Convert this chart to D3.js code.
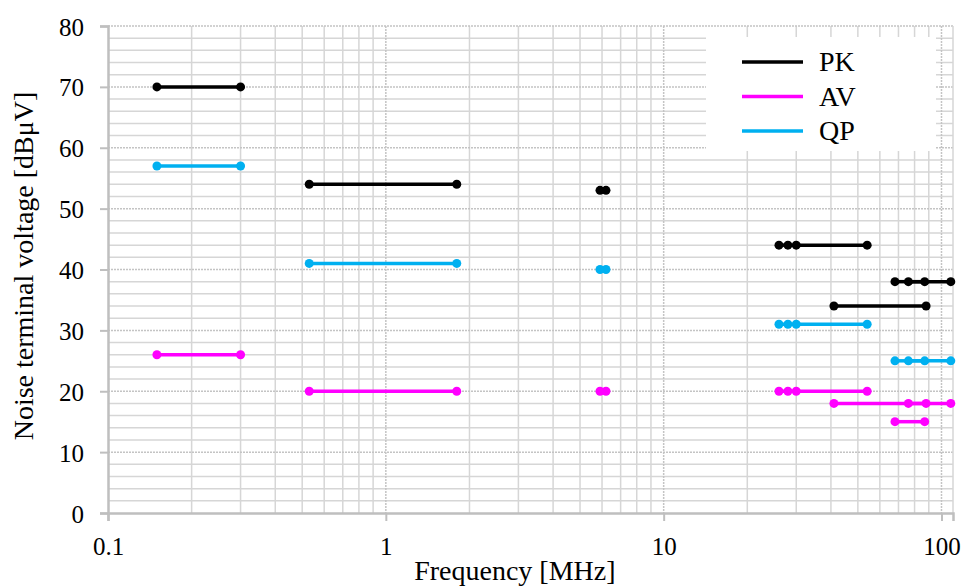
<!DOCTYPE html>
<html>
<head>
<meta charset="utf-8">
<script src="https://cdn.jsdelivr.net/npm/d3@7"></script>
<style>
  body { margin: 0; background: #fff; }
</style>
</head>
<body>
<svg width="964" height="586"></svg>
<script>
// limit segments: [start MHz, end MHz, level dBuV]
var pkSegments = [[0.15, 0.3, 70], [0.53, 1.8, 54], [5.9, 6.2, 53], [26, 28, 44], [30, 54, 44], [41, 88, 34], [68, 87, 38], [76, 108, 38]];
var avSegments = [[0.15, 0.3, 26], [0.53, 1.8, 20], [5.9, 6.2, 20], [26, 28, 20], [30, 54, 20], [41, 88, 18], [68, 87, 15], [76, 108, 18]];
var qpSegments = [[0.15, 0.3, 57], [0.53, 1.8, 41], [5.9, 6.2, 40], [26, 28, 31], [30, 54, 31], [68, 87, 25], [76, 108, 25]];
var seriesNames = ["PK", "AV", "QP"];
var seriesColors = ["#000000", "#ff00ff", "#00b0f0"];
var xTicks = [0.1, 1, 10, 100];
var yTicks = [0, 10, 20, 30, 40, 50, 60, 70, 80];

var FONT = "'Liberation Serif'";

var margin = { top: 26, right: 11, bottom: 73, left: 108 },
  width = 964 - margin.left - margin.right,
  height = 586 - margin.top - margin.bottom;

var svg = d3.select("svg")
  .append("g")
  .attr("transform", "translate(" + margin.left + "," + margin.top + ")");

var x = d3.scaleLog().domain([0.1, 110]).range([0, width]);
var y = d3.scaleLinear().domain([0, 80]).range([height, 0]);

// grid lines
var minorX = [];
[0.1, 1, 10].forEach(function (d) {
  for (var k = 2; k <= 9; k++) minorX.push(d * k);
});
var minorY = d3.range(2, 82, 2).filter(function (d) { return d % 10 != 0; });

svg.append("g").selectAll("line")
  .data(minorY)
  .enter().append("line")
  .attr("x1", 0).attr("x2", width)
  .attr("y1", function (d) { return y(d); })
  .attr("y2", function (d) { return y(d); })
  .attr("stroke", "#d6d6d6").attr("stroke-width", 1.5);

svg.append("g").selectAll("line")
  .data(minorX)
  .enter().append("line")
  .attr("x1", function (d) { return x(d); })
  .attr("x2", function (d) { return x(d); })
  .attr("y1", 0).attr("y2", height)
  .attr("stroke", "#d6d6d6").attr("stroke-width", 1.5);

// major grid (dotted)
svg.append("g").selectAll("line")
  .data(yTicks.slice(1))
  .enter().append("line")
  .attr("x1", 0).attr("x2", width)
  .attr("y1", function (d) { return y(d); })
  .attr("y2", function (d) { return y(d); })
  .attr("stroke", "#c4c4c4").attr("stroke-width", 1.5)
  .attr("stroke-dasharray", "2,1");

svg.append("g").selectAll("line")
  .data(xTicks.slice(1))
  .enter().append("line")
  .attr("x1", function (d) { return x(d); })
  .attr("x2", function (d) { return x(d); })
  .attr("y1", 0).attr("y2", height)
  .attr("stroke", "#c4c4c4").attr("stroke-width", 1.5)
  .attr("stroke-dasharray", "2,1");

// right border
svg.append("line")
  .attr("x1", width).attr("x2", width)
  .attr("y1", 0).attr("y2", height)
  .attr("stroke", "#d6d6d6").attr("stroke-width", 1.5);

// axes
var yAxis = d3.axisLeft(y).tickValues(yTicks).tickSize(8).tickPadding(16);
var xAxis = d3.axisBottom(x).tickValues(xTicks).tickSize(8).tickPadding(16)
  .tickFormat(function (d) { return d; });

var gy = svg.append("g").attr("class", "Yaxis").call(yAxis);
var gx = svg.append("g").attr("class", "Xaxis")
  .attr("transform", "translate(0," + height + ")").call(xAxis);

[gx, gy].forEach(function (g) {
  g.select(".domain").attr("stroke", "#bfbfbf").attr("stroke-width", 2.5);
  g.selectAll(".tick line").attr("stroke", "#bfbfbf").attr("stroke-width", 2);
  g.selectAll(".tick text")
    .style("font-family", FONT)
    .style("font-size", "25px")
    .attr("fill", "#000");
});
gy.selectAll(".tick text").attr("dy", "0.36em");

// axis titles
svg.append("text")
  .attr("x", x(1) + 129)
  .attr("y", height + 67)
  .attr("text-anchor", "middle")
  .style("font-family", FONT)
  .style("font-size", "28px")
  .text("Frequency [MHz]");

svg.append("text")
  .attr("transform", "translate(" + (33 - margin.left) + "," + (266 - margin.top) + ") rotate(-90)")
  .attr("text-anchor", "middle")
  .style("font-family", FONT)
  .style("font-size", "28px")
  .text("Noise terminal voltage [dBμV]");

// series
var allSeries = [pkSegments, avSegments, qpSegments];
allSeries.forEach(function (segs, i) {
  var g = svg.append("g");
  g.selectAll("line")
    .data(segs)
    .enter().append("line")
    .attr("x1", function (d) { return x(d[0]); })
    .attr("x2", function (d) { return x(d[1]); })
    .attr("y1", function (d) { return y(d[2]); })
    .attr("y2", function (d) { return y(d[2]); })
    .attr("stroke", seriesColors[i])
    .attr("stroke-width", 3.5);
  var pts = [];
  segs.forEach(function (d) { pts.push([d[0], d[2]]); pts.push([d[1], d[2]]); });
  g.selectAll("circle")
    .data(pts)
    .enter().append("circle")
    .attr("cx", function (d) { return x(d[0]); })
    .attr("cy", function (d) { return y(d[1]); })
    .attr("r", 4.5)
    .attr("fill", seriesColors[i]);
});

// legend
var legend = svg.append("g").attr("transform", "translate(" + (706 - margin.left) + "," + (37 - margin.top) + ")");
legend.append("rect")
  .attr("width", 230).attr("height", 114)
  .attr("fill", "#fff");
seriesNames.forEach(function (name, i) {
  var ly = 25 + i * 34.5;
  legend.append("line")
    .attr("x1", 36).attr("x2", 97)
    .attr("y1", ly).attr("y2", ly)
    .attr("stroke", seriesColors[i])
    .attr("stroke-width", 3.5);
  legend.append("text")
    .attr("x", 113)
    .attr("y", ly + 9)
    .style("font-family", FONT)
    .style("font-size", "28px")
    .text(name);
});
</script>
</body>
</html>
